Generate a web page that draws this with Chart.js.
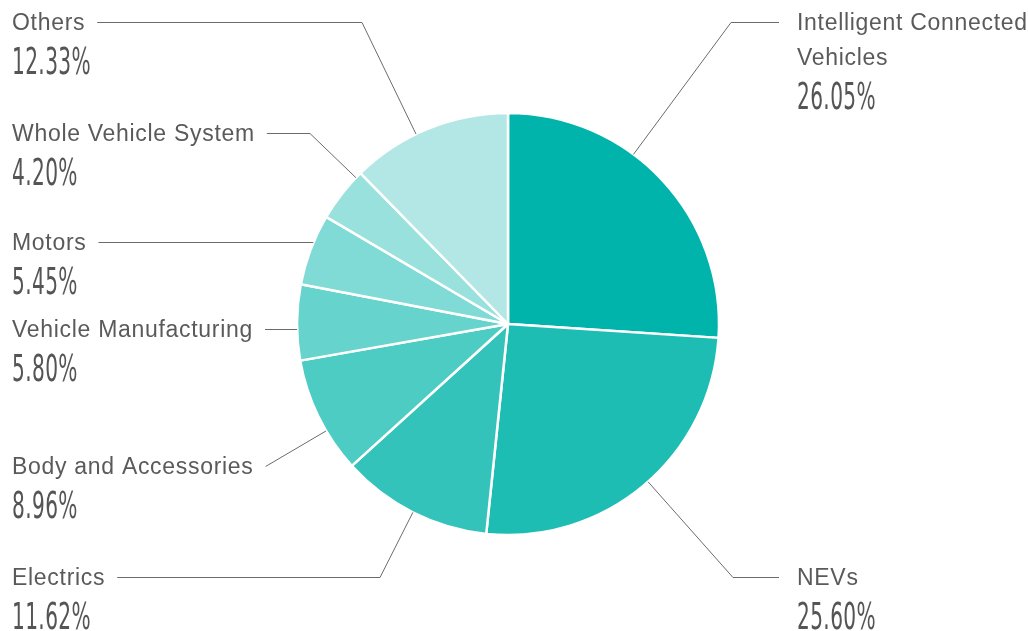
<!DOCTYPE html>
<html>
<head>
<meta charset="utf-8">
<script src="https://cdn.jsdelivr.net/npm/chart.js@4/dist/chart.umd.min.js"></script>
<style>
  html, body { margin: 0; padding: 0; background: #fff; }
  .chart-holder { position: relative; width: 1028px; height: 631px; }
</style>
</head>
<body>
<div class="chart-holder"><canvas id="chart"></canvas></div>
<script>
const categories = [
  'Intelligent Connected Vehicles',
  'NEVs',
  'Electrics',
  'Body and Accessories',
  'Vehicle Manufacturing',
  'Motors',
  'Whole Vehicle System',
  'Others',
];
const shares = [26.05, 25.60, 11.62, 8.96, 5.80, 5.45, 4.20, 12.33];
const sliceColors = ['#00b4ab', '#1dbdb4', '#33c3bb', '#4dccc4', '#66d3cd', '#80dbd6', '#99e1dd', '#b3e7e5'];

// where each label sits: side, y of the first text line, x of the leader elbow (null = run straight to the rim)
const labelLayout = [
  { side: 'right', y: 22, elbowX: 731, lines: ['Intelligent Connected', 'Vehicles'] },
  { side: 'right', y: 577, elbowX: 733 },
  { side: 'left', y: 577, elbowX: 380 },
  { side: 'left', y: 466, elbowX: 'start' },
  { side: 'left', y: 329, elbowX: null },
  { side: 'left', y: 242, elbowX: null },
  { side: 'left', y: 133, elbowX: 310 },
  { side: 'left', y: 22, elbowX: 362 },
];

const LABEL_FONT = '23px "Liberation Sans", Arial, sans-serif';
const VALUE_FONT = '38px "DejaVu Sans", sans-serif';
const TEXT_COLOR = '#5a5a5a';
const LINE_COLOR = '#6b6b6b';

const drawValue = (ctx, text, x, y) => {
  ctx.save();
  ctx.font = VALUE_FONT;
  ctx.fillStyle = '#555';
  ctx.textBaseline = 'middle';
  ctx.textAlign = 'left';
  ctx.translate(x, y);
  ctx.scale(0.53, 1);
  ctx.fillText(text, 0, 0);
  ctx.restore();
};

const leaderLabels = {
  id: 'leaderLabels',
  afterDatasetsDraw(chart) {
    const { ctx } = chart;
    const arcs = chart.getDatasetMeta(0).data;
    ctx.save();
    ctx.font = LABEL_FONT;
    ctx.letterSpacing = '0.7px';
    ctx.fillStyle = TEXT_COLOR;
    ctx.textBaseline = 'middle';
    ctx.textAlign = 'left';
    ctx.lineWidth = 1;
    ctx.strokeStyle = LINE_COLOR;

    arcs.forEach((arc, i) => {
      const { x: cx, y: cy, outerRadius: r } = arc.getProps(['x', 'y', 'outerRadius'], true);
      const lay = labelLayout[i];
      const lines = lay.lines || [categories[i]];
      const valueText = `${shares[i].toFixed(2)}%`;
      const lineY = lay.y + 0.5;
      const textX = lay.side === 'left' ? 12 : 797;

      lines.forEach((t, k) => ctx.fillText(t, textX, lay.y + 2 + k * 35));
      const lineStart = lay.side === 'left'
        ? textX + ctx.measureText(lines[0]).width + 12
        : textX - 18;
      drawValue(ctx, valueText, textX, lay.y + (lines.length - 1) * 35 + 42);

      // leader: horizontal run, then a straight segment aimed at the centre ending on the rim
      ctx.beginPath();
      ctx.moveTo(lineStart, lineY);
      if (lay.elbowX === null) {
        const dy = lineY - cy;
        ctx.lineTo(cx - Math.sqrt(Math.max(r * r - dy * dy, 0)), lineY);
      } else {
        const ex = lay.elbowX === 'start' ? lineStart : lay.elbowX;
        const dx = cx - ex;
        const dy = cy - lineY;
        const len = Math.hypot(dx, dy);
        ctx.lineTo(ex, lineY);
        ctx.lineTo(cx - (r * dx) / len, cy - (r * dy) / len);
      }
      ctx.stroke();
    });
    ctx.restore();
  },
};

const initChart = () => {
  new Chart(document.getElementById('chart'), {
    type: 'pie',
    data: {
      labels: categories,
      datasets: [
        {
          data: shares,
          backgroundColor: sliceColors,
          borderColor: '#ffffff',
          borderWidth: 2.5,
        },
      ],
    },
    options: {
      responsive: true,
      maintainAspectRatio: false,
      animation: false,
      radius: 211,
      layout: { padding: { left: 0, right: 12, top: 17, bottom: 0 } },
      plugins: {
        legend: { display: false },
        tooltip: { enabled: false },
      },
    },
    plugins: [leaderLabels],
  });
};

initChart();
</script>
</body>
</html>
